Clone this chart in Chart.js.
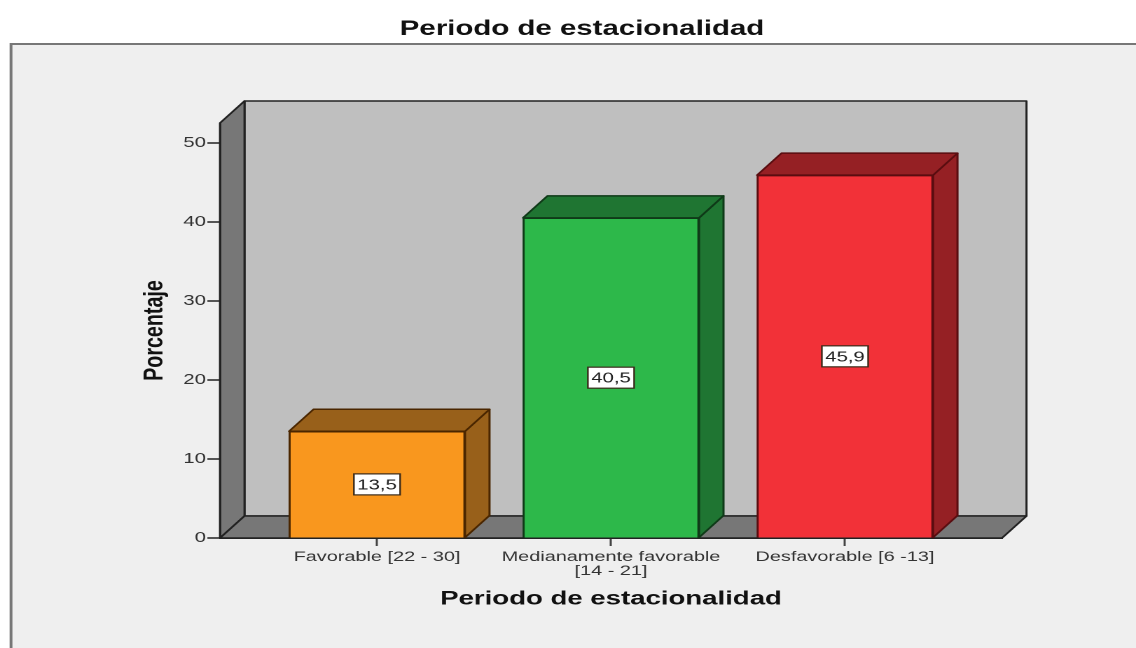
<!DOCTYPE html>
<html>
<head>
<meta charset="utf-8">
<style>
  html, body { margin: 0; padding: 0; background: #fff; overflow: hidden; }
</style>
<script src="https://cdn.jsdelivr.net/npm/chart.js@4"></script>
</head>
<body>
<!-- the reference is a horizontally stretched picture, so the canvas is too -->
<canvas id="chart" width="811" height="648" style="display:block;width:1136px;height:648px"></canvas>
<script>
const categories = [['Favorable [22 - 30]'], ['Medianamente favorable', '[14 - 21]'], ['Desfavorable [6 -13]']];
const percentages = [13.5, 40.5, 45.9];
const yTicks = [0, 10, 20, 30, 40, 50];
const chartTitle = 'Periodo de estacionalidad';
const xTitle = 'Periodo de estacionalidad';
const yTitle = 'Porcentaje';

const frontColors = ['#f9971e', '#2db84a', '#f23138'];
const sideColors = ['#98601a', '#1f7532', '#952024'];
const edgeColors = ['#4a2600', '#0f3a18', '#5a0d10'];

const S = 1136 / 811;        // horizontal stretch of the canvas
const depthX = 24.5 / S;     // 3d offset
const depthY = 22;
const font = 'Liberation Sans, Arial, sans-serif';

function poly(ctx, pts, fill, stroke, lw) {
  ctx.beginPath();
  pts.forEach((p, i) => i ? ctx.lineTo(p[0], p[1]) : ctx.moveTo(p[0], p[1]));
  ctx.closePath();
  ctx.fillStyle = fill;
  ctx.fill();
  ctx.strokeStyle = stroke;
  ctx.lineWidth = lw;
  ctx.lineJoin = 'round';
  ctx.stroke();
}

const box3d = {
  id: 'box3d',
  beforeDraw(chart) {
    const { ctx, chartArea: a } = chart;
    ctx.save();
    // panel behind the chart
    ctx.fillStyle = '#efefef';
    ctx.fillRect(11 / S, 44, chart.width, chart.height);
    ctx.strokeStyle = '#777';
    ctx.lineWidth = 2;
    ctx.beginPath();
    ctx.moveTo(11 / S, chart.height);
    ctx.lineTo(11 / S, 44);
    ctx.lineTo(chart.width, 44);
    ctx.stroke();
    // back wall, left wall, floor
    const bl = a.left + depthX, br = a.right + depthX, t = a.top - depthY, b = a.bottom - depthY;
    poly(ctx, [[bl, t], [br, t], [br, b], [bl, b]], '#bfbfbf', '#222', 1.5);
    poly(ctx, [[a.left, a.top], [bl, t], [bl, b], [a.left, a.bottom]], '#777777', '#222', 1.5);
    poly(ctx, [[a.left, a.bottom], [bl, b], [br, b], [a.right, a.bottom]], '#777777', '#222', 1.5);
    ctx.restore();
  },
  beforeDatasetsDraw(chart) {
    const { ctx } = chart;
    ctx.save();
    chart.getDatasetMeta(0).data.forEach((bar, i) => {
      const l = bar.x - bar.width / 2, r = bar.x + bar.width / 2;
      poly(ctx, [[r, bar.y], [r + depthX, bar.y - depthY], [r + depthX, bar.base - depthY], [r, bar.base]], sideColors[i], edgeColors[i], 1.5);
      poly(ctx, [[l, bar.y], [l + depthX, bar.y - depthY], [r + depthX, bar.y - depthY], [r, bar.y]], sideColors[i], edgeColors[i], 1.5);
    });
    ctx.restore();
  },
  afterDatasetsDraw(chart) {
    const { ctx } = chart;
    ctx.save();
    chart.getDatasetMeta(0).data.forEach((bar, i) => {
      const w = 33, h = 21, cy = (bar.y + bar.base) / 2;
      ctx.fillStyle = '#fff';
      ctx.strokeStyle = '#3a2a1a';
      ctx.lineWidth = 1.2;
      ctx.fillRect(bar.x - w / 2, cy - h / 2, w, h);
      ctx.strokeRect(bar.x - w / 2, cy - h / 2, w, h);
      ctx.fillStyle = '#222';
      ctx.font = '14.5px ' + font;
      ctx.textAlign = 'center';
      ctx.textBaseline = 'middle';
      ctx.fillText(percentages[i].toFixed(1).replace('.', ','), bar.x, cy + 1);
    });
    ctx.restore();
  }
};

new Chart(document.getElementById('chart'), {
  type: 'bar',
  plugins: [box3d],
  data: {
    datasets: [{
      data: percentages.map((v, i) => ({ x: i, y: v })),
      backgroundColor: frontColors,
      borderColor: edgeColors,
      borderWidth: 1.5,
      barThickness: 176 / S
    }]
  },
  options: {
    responsive: false,
    animation: false,
    devicePixelRatio: 2,
    layout: { padding: { left: 20, right: 0, top: 0, bottom: 0 } },
    plugins: {
      legend: { display: false },
      tooltip: { enabled: false },
      title: {
        display: true,
        text: chartTitle,
        color: '#111',
        font: { family: font, size: 21, weight: 'bold', lineHeight: 1.2 },
        padding: { top: 16.4, bottom: 81.4 }
      }
    },
    scales: {
      x: {
        type: 'linear',
        min: -0.671,
        max: 2.671,
        offset: false,
        afterBuildTicks: s => { s.ticks = categories.map((c, i) => ({ value: i })); },
        afterFit: s => { s.height = 110; },
        grid: { drawOnChartArea: false, offset: false, tickLength: 8, tickColor: '#444', tickWidth: 1.5 },
        border: { color: '#222', width: 1.5 },
        ticks: {
          autoSkip: false,
          maxRotation: 0,
          padding: 4,
          color: '#333',
          font: { family: font, size: 14.2, lineHeight: 1 },
          callback: v => categories[v]
        },
        title: {
          display: true,
          text: xTitle,
          color: '#111',
          font: { family: font, size: 19.7, weight: 'bold', lineHeight: 1.2 },
          padding: { top: 0, bottom: 37 }
        }
      },
      y: {
        min: 0,
        max: 52.5,
        afterBuildTicks: s => { s.ticks = yTicks.map(v => ({ value: v })); },
        afterFit: s => { s.width = 220 / S - 20; },
        grid: { drawOnChartArea: false, tickLength: 9, tickColor: '#222', tickWidth: 1.5 },
        border: { color: '#222', width: 1.5 },
        ticks: {
          padding: 1,
          color: '#333',
          font: { family: font, size: 14.5 }
        },
        title: {
          display: true,
          text: yTitle,
          color: '#111',
          font: { family: font, size: 19.7, weight: 'bold', lineHeight: 1.2 },
          padding: { top: 79, bottom: 0 }
        }
      },
      // empty scale, only keeps the plot clear of the right side
      spacer: {
        type: 'linear',
        position: 'right',
        afterBuildTicks: s => { s.ticks = []; },
        afterFit: s => { s.width = (1136 - 1002) / S; },
        grid: { display: false },
        border: { display: false },
        ticks: { display: false }
      }
    }
  }
});
</script>
</body>
</html>
